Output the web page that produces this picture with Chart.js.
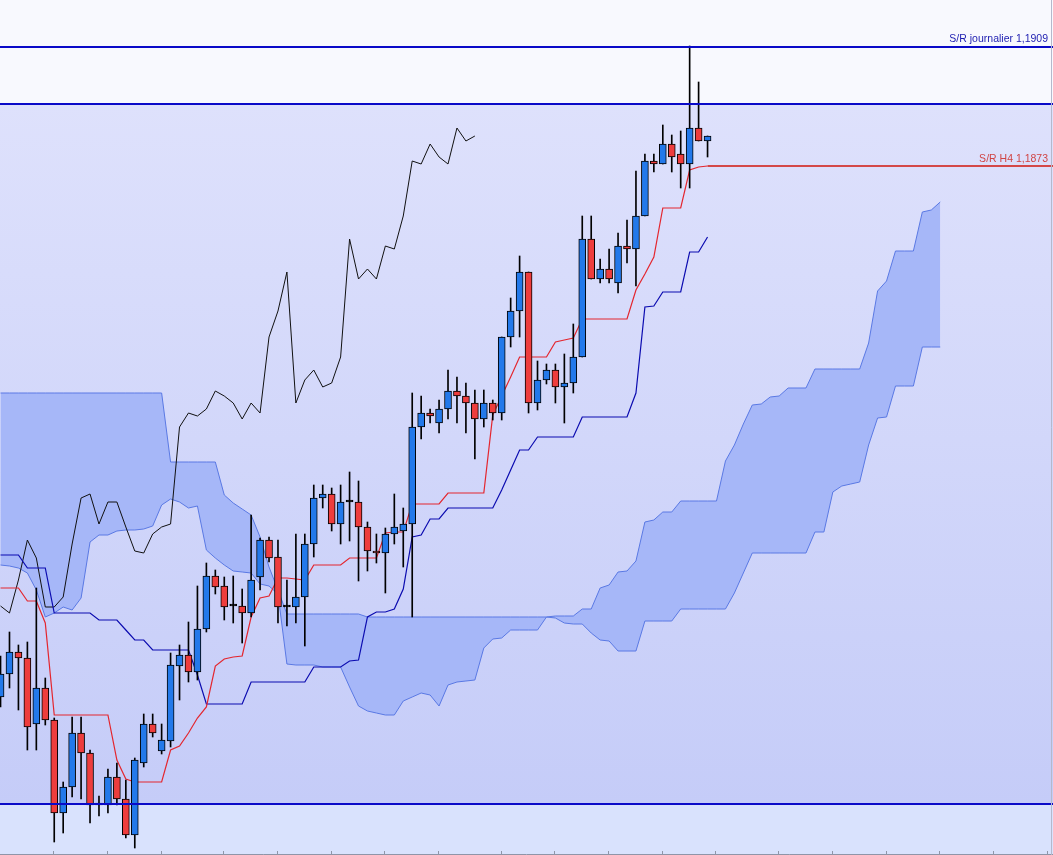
<!DOCTYPE html>
<html lang="fr">
<head>
<meta charset="utf-8">
<title>EUR/USD H4 - Ichimoku</title>
<script src="https://cdn.jsdelivr.net/npm/chart.js@4.4.0/dist/chart.umd.min.js"></script>
<style>
  html, body { margin: 0; padding: 0; background: #f8f9fe; overflow: hidden; }
  #wrap { position: relative; width: 1053px; height: 855px; }
</style>
</head>
<body>
<div id="wrap"><canvas id="chart" width="1053" height="855"></canvas></div>
<script>
// Bougies H4
const opens = [1.17139, 1.17208, 1.17274, 1.17256, 1.17058, 1.17166, 1.17070, 1.16791, 1.16869, 1.17031,
  1.16971, 1.16815, 1.16815, 1.16899, 1.16833, 1.16725, 1.16941, 1.17058, 1.16977, 1.17007,
  1.17232, 1.17265, 1.17214, 1.17343, 1.17502, 1.17472, 1.17412, 1.17412, 1.17391, 1.17499,
  1.17610, 1.17559, 1.17409, 1.17409, 1.17439, 1.17598, 1.17736, 1.17748, 1.17658, 1.17724,
  1.17724, 1.17649, 1.17577, 1.17571, 1.17628, 1.17637, 1.17658, 1.17949, 1.17991, 1.17961,
  1.18003, 1.18057, 1.18042, 1.18021, 1.17973, 1.18021, 1.17991, 1.18219, 1.18297, 1.18414,
  1.18021, 1.18090, 1.18120, 1.18069, 1.18081, 1.18159, 1.18513, 1.18393, 1.18423, 1.18381,
  1.18492, 1.18483, 1.18582, 1.18747, 1.18738, 1.18798, 1.18768, 1.18738, 1.18846, 1.18807];
const highs = [1.17262, 1.17334, 1.17295, 1.17304, 1.17466, 1.17196, 1.17076, 1.16884, 1.17079, 1.17079,
  1.16980, 1.16842, 1.16923, 1.16941, 1.16890, 1.16956, 1.17088, 1.17088, 1.17058, 1.17271,
  1.17295, 1.17364, 1.17472, 1.17541, 1.17520, 1.17499, 1.17502, 1.17463, 1.17685, 1.17616,
  1.17619, 1.17610, 1.17490, 1.17628, 1.17628, 1.17775, 1.17775, 1.17766, 1.17775, 1.17814,
  1.17787, 1.17664, 1.17628, 1.17646, 1.17748, 1.17706, 1.18051, 1.18042, 1.18003, 1.18030,
  1.18120, 1.18099, 1.18081, 1.18060, 1.18060, 1.18030, 1.18219, 1.18336, 1.18462, 1.18414,
  1.18147, 1.18138, 1.18138, 1.18168, 1.18258, 1.18582, 1.18582, 1.18453, 1.18483, 1.18531,
  1.18570, 1.18717, 1.18768, 1.18768, 1.18855, 1.18825, 1.18837, 1.19092, 1.18984, 1.18822];
const lows = [1.17109, 1.17166, 1.17100, 1.16980, 1.16980, 1.17055, 1.16704, 1.16731, 1.16839, 1.16833,
  1.16761, 1.16782, 1.16791, 1.16815, 1.16716, 1.16686, 1.16929, 1.17019, 1.16968, 1.16989,
  1.17130, 1.17184, 1.17190, 1.17334, 1.17448, 1.17370, 1.17361, 1.17301, 1.17379, 1.17460,
  1.17544, 1.17361, 1.17352, 1.17361, 1.17292, 1.17559, 1.17706, 1.17637, 1.17598, 1.17607,
  1.17487, 1.17517, 1.17541, 1.17451, 1.17598, 1.17529, 1.17379, 1.17913, 1.17961, 1.17931,
  1.17973, 1.17961, 1.17931, 1.17853, 1.17949, 1.17970, 1.17970, 1.18189, 1.18219, 1.17991,
  1.18000, 1.18078, 1.18021, 1.17961, 1.18051, 1.18159, 1.18393, 1.18381, 1.18381, 1.18351,
  1.18441, 1.18372, 1.18582, 1.18714, 1.18738, 1.18714, 1.18666, 1.18666, 1.18807, 1.18759];
const closes = [1.17208, 1.17274, 1.17256, 1.17049, 1.17166, 1.17070, 1.16791, 1.16869, 1.17031, 1.16971,
  1.16815, 1.16815, 1.16899, 1.16833, 1.16725, 1.16950, 1.17058, 1.17031, 1.17010, 1.17235,
  1.17265, 1.17214, 1.17343, 1.17502, 1.17469, 1.17409, 1.17412, 1.17391, 1.17490, 1.17610,
  1.17556, 1.17409, 1.17409, 1.17439, 1.17598, 1.17736, 1.17748, 1.17658, 1.17724, 1.17724,
  1.17649, 1.17577, 1.17571, 1.17628, 1.17649, 1.17658, 1.17949, 1.17991, 1.17982, 1.18003,
  1.18057, 1.18042, 1.18021, 1.17973, 1.18021, 1.17991, 1.18219, 1.18297, 1.18414, 1.18021,
  1.18090, 1.18120, 1.18069, 1.18081, 1.18159, 1.18513, 1.18393, 1.18423, 1.18393, 1.18492,
  1.18483, 1.18582, 1.18747, 1.18738, 1.18798, 1.18759, 1.18738, 1.18846, 1.18807, 1.18822];

// Ichimoku
const tenkan = [1.17466, 1.17466, 1.17466, 1.17427, 1.17427, 1.17361, 1.17085, 1.17085, 1.17085, 1.17085,
  1.17085, 1.17085, 1.17085, 1.16950, 1.16893, 1.16884, 1.16884, 1.16884, 1.16884, 1.16980,
  1.16992, 1.17031, 1.17076, 1.17109, 1.17232, 1.17253, 1.17259, 1.17262, 1.17379, 1.17436,
  1.17442, 1.17496, 1.17496, 1.17493, 1.17490, 1.17535, 1.17535, 1.17535, 1.17535, 1.17556,
  1.17556, 1.17556, 1.17556, 1.17631, 1.17634, 1.17634, 1.17718, 1.17718, 1.17718, 1.17718,
  1.17751, 1.17751, 1.17751, 1.17751, 1.17751, 1.17985, 1.18042, 1.18099, 1.18159, 1.18159,
  1.18159, 1.18159, 1.18204, 1.18210, 1.18216, 1.18273, 1.18273, 1.18273, 1.18273, 1.18273,
  1.18273, 1.18360, 1.18408, 1.18459, 1.18606, 1.18606, 1.18606, 1.18720, 1.18729, 1.18732];
const kijun = [1.17565, 1.17565, 1.17565, 1.17526, 1.17526, 1.17526, 1.17391, 1.17391, 1.17391, 1.17391,
  1.17391, 1.17370, 1.17370, 1.17370, 1.17340, 1.17310, 1.17310, 1.17280, 1.17280, 1.17280,
  1.17280, 1.17280, 1.17205, 1.17118, 1.17118, 1.17118, 1.17118, 1.17118, 1.17184, 1.17184,
  1.17184, 1.17184, 1.17184, 1.17184, 1.17184, 1.17229, 1.17229, 1.17229, 1.17229, 1.17247,
  1.17250, 1.17379, 1.17394, 1.17394, 1.17403, 1.17463, 1.17619, 1.17625, 1.17673, 1.17673,
  1.17706, 1.17706, 1.17706, 1.17706, 1.17706, 1.17706, 1.17760, 1.17820, 1.17880, 1.17880,
  1.17919, 1.17919, 1.17919, 1.17919, 1.17919, 1.17979, 1.17979, 1.17979, 1.17979, 1.17979,
  1.17979, 1.18051, 1.18309, 1.18312, 1.18354, 1.18354, 1.18354, 1.18474, 1.18474, 1.18519];
const chikou = [1.17412, 1.17391, 1.17490, 1.17610, 1.17556, 1.17409, 1.17409, 1.17439, 1.17598, 1.17736,
  1.17748, 1.17658, 1.17724, 1.17724, 1.17649, 1.17577, 1.17571, 1.17628, 1.17649, 1.17658,
  1.17949, 1.17991, 1.17982, 1.18003, 1.18057, 1.18042, 1.18021, 1.17973, 1.18021, 1.17991,
  1.18219, 1.18297, 1.18414, 1.18021, 1.18090, 1.18120, 1.18069, 1.18081, 1.18159, 1.18513,
  1.18393, 1.18423, 1.18393, 1.18492, 1.18483, 1.18582, 1.18747, 1.18738, 1.18798, 1.18759,
  1.18738, 1.18846, 1.18807, 1.18822];
const spanA = [1.17535, 1.17532, 1.17526, 1.17511, 1.17460, 1.17379, 1.17391, 1.17409, 1.17400, 1.17436,
  1.17604, 1.17625, 1.17625, 1.17637, 1.17640, 1.17640, 1.17643, 1.17652, 1.17715, 1.17733,
  1.17724, 1.17706, 1.17712, 1.17580, 1.17556, 1.17535, 1.17517, 1.17514, 1.17511, 1.17478,
  1.17472, 1.17448, 1.17238, 1.17235, 1.17235, 1.17235, 1.17229, 1.17229, 1.17229, 1.17169,
  1.17112, 1.17097, 1.17091, 1.17085, 1.17085, 1.17127, 1.17139, 1.17151, 1.17145, 1.17112,
  1.17175, 1.17184, 1.17187, 1.17190, 1.17286, 1.17313, 1.17316, 1.17340, 1.17340, 1.17340,
  1.17340, 1.17379, 1.17382, 1.17382, 1.17382, 1.17403, 1.17403, 1.17466, 1.17475, 1.17514,
  1.17517, 1.17547, 1.17664, 1.17670, 1.17694, 1.17694, 1.17727, 1.17727, 1.17727, 1.17727,
  1.17727, 1.17847, 1.17895, 1.17958, 1.18015, 1.18018, 1.18039, 1.18042, 1.18066, 1.18066,
  1.18066, 1.18123, 1.18123, 1.18123, 1.18123, 1.18123, 1.18123, 1.18201, 1.18357, 1.18387,
  1.18477, 1.18477, 1.18477, 1.18594, 1.18600, 1.18624];
const spanB = [1.18051, 1.18051, 1.18051, 1.18051, 1.18051, 1.18051, 1.18051, 1.18051, 1.18051, 1.18051,
  1.18051, 1.18051, 1.18051, 1.18051, 1.18051, 1.18051, 1.18051, 1.18051, 1.18051, 1.17844,
  1.17844, 1.17844, 1.17844, 1.17844, 1.17844, 1.17745, 1.17721, 1.17703, 1.17685, 1.17619,
  1.17529, 1.17460, 1.17388, 1.17388, 1.17388, 1.17388, 1.17388, 1.17388, 1.17388, 1.17388,
  1.17388, 1.17379, 1.17379, 1.17379, 1.17379, 1.17379, 1.17379, 1.17379, 1.17379, 1.17379,
  1.17379, 1.17379, 1.17379, 1.17379, 1.17379, 1.17379, 1.17379, 1.17379, 1.17379, 1.17379,
  1.17379, 1.17379, 1.17376, 1.17361, 1.17358, 1.17358, 1.17331, 1.17310, 1.17307, 1.17277,
  1.17277, 1.17277, 1.17367, 1.17367, 1.17367, 1.17367, 1.17403, 1.17403, 1.17403, 1.17403,
  1.17403, 1.17403, 1.17451, 1.17511, 1.17571, 1.17571, 1.17571, 1.17571, 1.17571, 1.17571,
  1.17571, 1.17634, 1.17634, 1.17754, 1.17772, 1.17778, 1.17784, 1.17895, 1.17976, 1.17979,
  1.18072, 1.18072, 1.18072, 1.18189, 1.18189, 1.18189];

// Niveaux horizontaux et repères de séance
const srDaily = 1.1909;
const srDailyLow = 1.18918;
const srLow = 1.16818;
const srH4 = 1.1873;
const dayTicks = [6, 12, 18, 25, 31, 37, 43, 49, 56, 62, 68, 74, 80, 87, 93, 99, 105, 111, 117];

const UP = '#2379ea';
const DOWN = '#ee3d3d';
const FONT = '10.5px "Liberation Sans", Arial, sans-serif';

const pts = arr => arr.map((v, i) => ({ x: i, y: v }));

const candleColor = ctx => {
    if (ctx.type !== 'data') return UP;
    const o = opens[ctx.dataIndex], c = closes[ctx.dataIndex];
    return c > o ? UP : (c < o ? DOWN : '#000');
};

// fond : zones claires en haut/bas, dégradé au milieu
const backdrop = {
    id: 'backdrop',
    beforeDraw(chart) {
        const { ctx, width, height } = chart;
        const y = chart.scales.y;
        const yTop = y.getPixelForValue(srDailyLow);
        const yBot = y.getPixelForValue(srLow);
        ctx.save();
        ctx.fillStyle = '#f8f9fe';
        ctx.fillRect(0, 0, width, yTop);
        const g = ctx.createLinearGradient(0, yTop, 0, yBot);
        g.addColorStop(0, '#dee1fc');
        g.addColorStop(1, '#c5ccf8');
        ctx.fillStyle = g;
        ctx.fillRect(0, yTop, width, yBot - yTop);
        ctx.fillStyle = '#d9e2fd';
        ctx.fillRect(0, yBot, width, height - yBot);
        ctx.restore();
    }
};

// lignes S/R + libellés
const levels = {
    id: 'levels',
    afterDatasetsDraw(chart) {
        const { ctx, width, height } = chart;
        const x = chart.scales.x, y = chart.scales.y;
        ctx.save();
        ctx.lineWidth = 2;
        ctx.strokeStyle = '#0a0ac8';
        for (const v of [srDaily, srDailyLow, srLow]) {
            const py = Math.round(y.getPixelForValue(v));
            ctx.beginPath();
            ctx.moveTo(0, py);
            ctx.lineTo(width, py);
            ctx.stroke();
        }
        const pyH4 = Math.round(y.getPixelForValue(srH4)) - 1;
        ctx.strokeStyle = '#d44848';
        ctx.beginPath();
        ctx.moveTo(x.getPixelForValue(opens.length - 1), pyH4);
        ctx.lineTo(width, pyH4);
        ctx.stroke();

        ctx.font = FONT;
        ctx.textAlign = 'right';
        ctx.textBaseline = 'alphabetic';
        ctx.fillStyle = '#1c1cb0';
        ctx.fillText('S/R journalier 1,1909', width - 5, y.getPixelForValue(srDaily) - 5);
        ctx.fillStyle = '#d04444';
        ctx.fillText('S/R H4 1,1873', width - 5, pyH4 - 4);

        // bord bas + repères de séance, bord droit
        ctx.lineWidth = 1;
        ctx.strokeStyle = '#8f95a8';
        ctx.beginPath();
        ctx.moveTo(0, height - 0.5);
        ctx.lineTo(width, height - 0.5);
        for (const t of dayTicks) {
            const px = Math.round(x.getPixelForValue(t)) - 0.5;
            ctx.moveTo(px, height - 4);
            ctx.lineTo(px, height);
        }
        ctx.stroke();
        ctx.strokeStyle = '#b4b9cc';
        ctx.beginPath();
        ctx.moveTo(width - 1.5, 0);
        ctx.lineTo(width - 1.5, height);
        ctx.stroke();
        ctx.restore();
    }
};

new Chart(document.getElementById('chart'), {
    type: 'bar',
    data: {
        datasets: [
            {
                type: 'line', label: 'Senkou A', data: pts(spanA), order: 7,
                borderColor: '#5a79e4', borderWidth: 1, pointRadius: 0, tension: 0,
                fill: '+1', backgroundColor: '#a6b7f8'
            },
            {
                type: 'line', label: 'Senkou B', data: pts(spanB), order: 6,
                borderColor: '#5a79e4', borderWidth: 1, pointRadius: 0, tension: 0, fill: false
            },
            {
                type: 'line', label: 'Chikou', data: pts(chikou), order: 5,
                borderColor: '#111', borderWidth: 1, pointRadius: 0, tension: 0, fill: false
            },
            {
                type: 'line', label: 'Kijun', data: pts(kijun), order: 4,
                borderColor: '#0b0bb0', borderWidth: 1.2, pointRadius: 0, tension: 0, fill: false
            },
            {
                type: 'line', label: 'Tenkan', data: pts(tenkan), order: 3,
                borderColor: '#e4262e', borderWidth: 1.2, pointRadius: 0, tension: 0, fill: false
            },
            {
                label: 'Mèches', data: lows.map((l, i) => ({ x: i, y: [l, highs[i]] })), order: 2,
                backgroundColor: '#000', borderWidth: 0, barThickness: 1, grouped: false
            },
            {
                label: 'Corps', data: opens.map((o, i) => ({ x: i, y: [o, closes[i]] })), order: 1,
                backgroundColor: candleColor, borderColor: '#000', borderWidth: 1,
                borderSkipped: false, barThickness: 7, minBarLength: 2, grouped: false
            }
        ]
    },
    options: {
        responsive: false,
        animation: false,
        devicePixelRatio: 1,
        events: [],
        layout: { padding: 0 },
        plugins: { legend: { display: false }, tooltip: { enabled: false } },
        scales: {
            x: { type: 'linear', min: -0.06, max: 117.6, offset: false, display: false },
            y: { type: 'linear', min: 1.16665, max: 1.1923, display: false }
        }
    },
    plugins: [backdrop, levels]
});
</script>
</body>
</html>
